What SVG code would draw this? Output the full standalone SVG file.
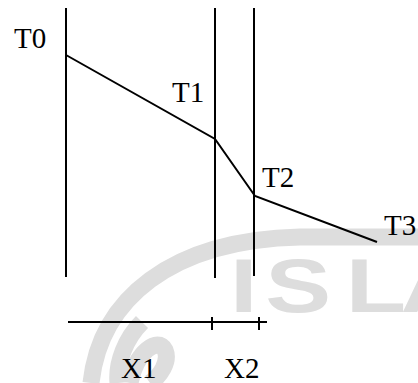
<svg xmlns="http://www.w3.org/2000/svg" width="418" height="383" viewBox="0 0 418 383">
<style>
.wm{fill:none;stroke:#dddddd;stroke-width:17}
.wmt{fill:#dddddd;font-family:'Liberation Sans',Arial,sans-serif;font-weight:bold;font-size:76px}
.ln{fill:none;stroke:#000;stroke-width:2}
.lb{font-family:'Liberation Serif','Times New Roman',serif;font-size:29px;fill:#000}
</style>
<rect width="418" height="383" fill="#fff"/>
<g id="watermark">
<path class="wm" d="M91 383 C100 300 170 240 300 237 L418 237"/>
<path class="wm" stroke-width="12" d="M142 322 C126 338 116 362 118 383"/>
<path class="wm" stroke-width="12" d="M130 383 C136 352 158 336 165 350 C170 362 160 376 150 383"/>
<text class="wmt" transform="translate(0,312) scale(1.3,1) translate(0,-312)" x="177 204 266 308" y="312">ISLA</text>
</g>
<g id="connectors">
<line class="ln" x1="66" y1="8" x2="66" y2="277"/>
<line class="ln" x1="215" y1="8" x2="215" y2="278"/>
<line class="ln" x1="254" y1="8" x2="254" y2="276"/>
<polyline class="ln" points="66,55 215,139 255,196 377,242"/>
<line class="ln" x1="68" y1="322" x2="267" y2="322"/>
<line class="ln" x1="212" y1="317" x2="212" y2="330"/>
<line class="ln" x1="259" y1="317" x2="259" y2="330"/>
</g>
<g id="T0"><text class="lb" font-family="Liberation Serif, serif" x="14" y="48">T0</text></g>
<g id="T1"><text class="lb" font-family="Liberation Serif, serif" x="172" y="102">T1</text></g>
<g id="T2"><text class="lb" font-family="Liberation Serif, serif" x="262" y="187">T2</text></g>
<g id="T3"><text class="lb" font-family="Liberation Serif, serif" x="384" y="235">T3</text></g>
<g id="X1"><text class="lb" font-family="Liberation Serif, serif" x="121" y="378">X1</text></g>
<g id="X2"><text class="lb" font-family="Liberation Serif, serif" x="224" y="378">X2</text></g>
</svg>
